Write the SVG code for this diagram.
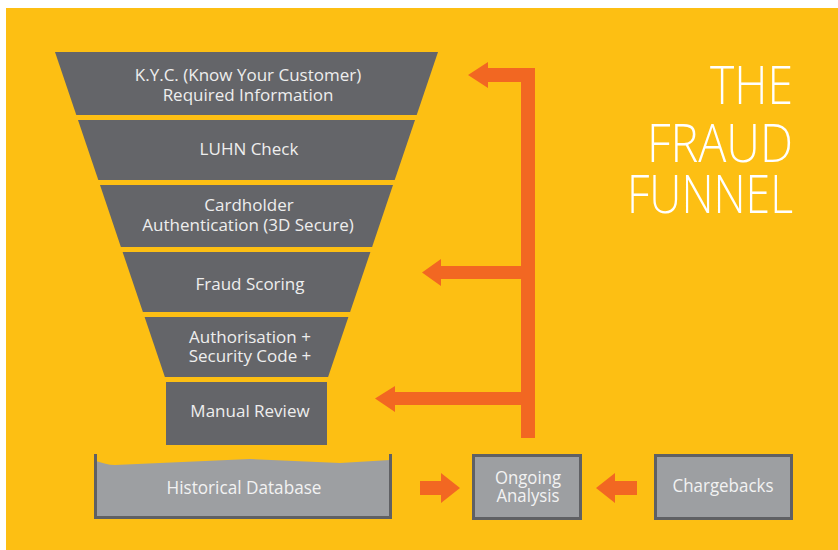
<svg xmlns="http://www.w3.org/2000/svg" width="838" height="550" viewBox="0 0 838 550">
  <style>
    .stage { fill: #646569; }
    .lbl { font-family: "Open Sans", "DejaVu Sans", sans-serif; font-size: 17px; fill: #eeeeee; text-anchor: middle; }
    .lbl2 { font-family: "Open Sans", "DejaVu Sans", sans-serif; font-size: 18px; fill: #f2f2f2; text-anchor: middle; }
    .box { fill: #9d9fa2; stroke: #5f6064; stroke-width: 3; }
    .flow { fill: #f26722; }
    .title { font-family: "Open Sans", "DejaVu Sans", sans-serif; font-weight: 300; font-size: 54px; fill: #ffffff; }
  </style>

  <!-- backdrop -->
  <rect x="0" y="0" width="838" height="550" fill="#ffffff"/>
  <rect x="6" y="8" width="832" height="542" fill="#fdbf13"/>

  <!-- funnel stages -->
  <g id="kyc">
    <polygon class="stage" points="55,52 438,52 416.7,115 76.3,115"/>
    <text class="lbl" x="248" y="81">K.Y.C. (Know Your Customer)</text>
    <text class="lbl" x="248" y="101">Required Information</text>
  </g>
  <g id="luhn">
    <polygon class="stage" points="78,120 415,120 394.7,180 98.3,180"/>
    <text class="lbl" x="249" y="155">LUHN Check</text>
  </g>
  <g id="cardholder">
    <polygon class="stage" points="100,185 393,185 372.1,247 120.9,247"/>
    <text class="lbl" x="249" y="211">Cardholder</text>
    <text class="lbl" x="248" y="231">Authentication (3D Secure)</text>
  </g>
  <g id="scoring">
    <polygon class="stage" points="122.6,252 370.4,252 350.1,312 142.9,312"/>
    <text class="lbl" x="250" y="290">Fraud Scoring</text>
  </g>
  <g id="authorisation">
    <polygon class="stage" points="144.6,317 348.4,317 328.1,377 164.9,377"/>
    <text class="lbl" x="250" y="343">Authorisation +</text>
    <text class="lbl" x="250" y="362">Security Code +</text>
  </g>
  <g id="manual-review">
    <rect class="stage" x="166" y="382" width="161" height="63"/>
    <text class="lbl" x="250" y="417">Manual Review</text>
  </g>

  <!-- bottom row -->
  <g id="historical-database">
    <path d="M96,461 C103,463 108,465 115,465 L250,459 L340,463 L390,460 V517 H96 Z" fill="#9d9fa2"/>
    <path d="M95.5,454 V517.5 H390.5 V454" fill="none" stroke="#5f6064" stroke-width="3"/>
    <text class="lbl2" x="244" y="494" textLength="155" lengthAdjust="spacingAndGlyphs">Historical Database</text>
  </g>
  <g id="ongoing-analysis">
    <rect class="box" x="473.5" y="455.5" width="107" height="63"/>
    <text class="lbl2" x="528" y="484" textLength="66" lengthAdjust="spacingAndGlyphs">Ongoing</text>
    <text class="lbl2" x="528" y="502" textLength="63" lengthAdjust="spacingAndGlyphs">Analysis</text>
  </g>
  <g id="chargebacks">
    <rect class="box" x="655.5" y="455.5" width="136" height="63"/>
    <text class="lbl2" x="723" y="492" textLength="101" lengthAdjust="spacingAndGlyphs">Chargebacks</text>
  </g>

  <!-- feedback connectors -->
  <g id="connectors">
    <rect class="flow" x="521" y="68" width="14" height="370"/>
    <polygon class="flow" points="535,68 488,68 488,62 468,75 488,88 488,82 535,82"/>
    <polygon class="flow" points="521,266 441,266 441,259 422,272.5 441,286 441,279 521,279"/>
    <polygon class="flow" points="521,392 395,392 395,386 375,398.5 395,412 395,405 521,405"/>
    <polygon class="flow" points="420,481 441,481 441,473 460,488 441,503 441,495 420,495"/>
    <polygon class="flow" points="637,481 615,481 615,473 596,488 615,503 615,495 637,495"/>
  </g>

  <!-- heading -->
  <g id="title">
    <text class="title" x="710" y="104" textLength="83" lengthAdjust="spacingAndGlyphs">THE</text>
    <text class="title" x="647" y="162" textLength="146" lengthAdjust="spacingAndGlyphs">FRAUD</text>
    <text class="title" x="627" y="213" textLength="166" lengthAdjust="spacingAndGlyphs">FUNNEL</text>
  </g>
</svg>
